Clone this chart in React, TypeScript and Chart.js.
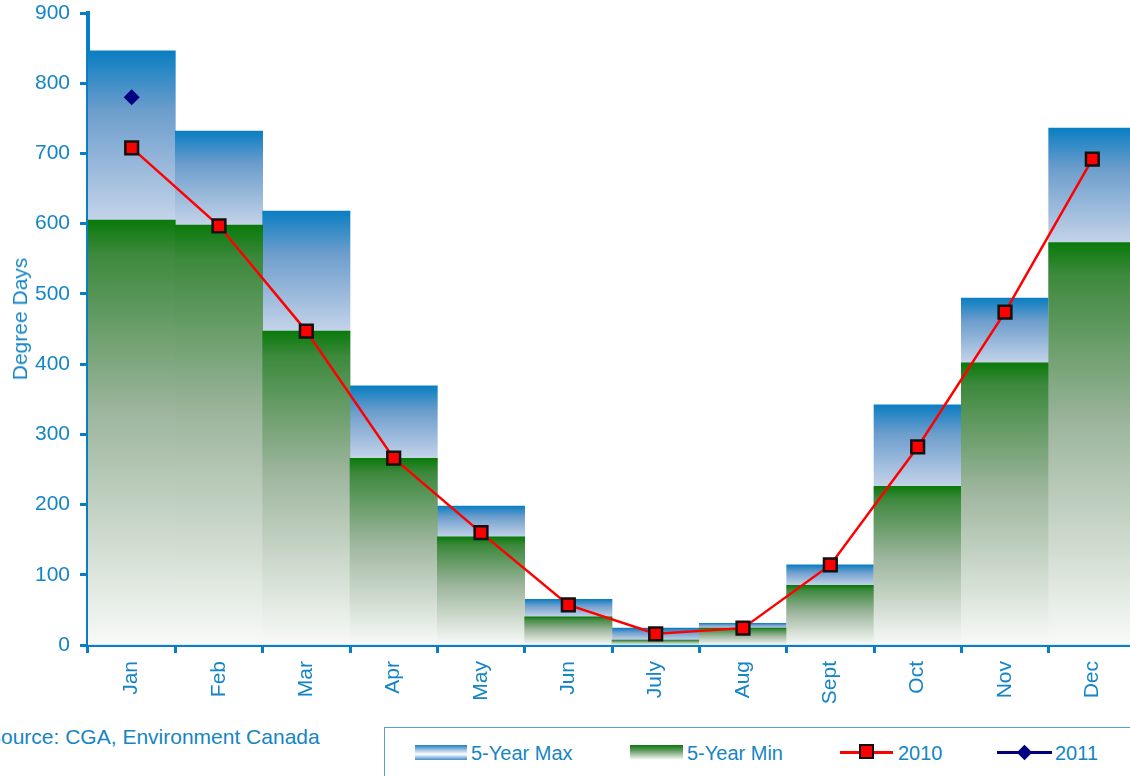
import React, { useEffect, useRef } from "react";
import { Chart, registerables } from "chart.js";

Chart.register(...registerables);

const months = ["Jan", "Feb", "Mar", "Apr", "May", "Jun", "July", "Aug", "Sept", "Oct", "Nov", "Dec"];
const fiveYearMax = [846, 732, 618, 369, 198, 65, 24, 31, 114, 342, 494, 736];
const fiveYearMin = [605, 598, 447, 266, 154, 40, 7, 24, 85, 226, 402, 573];
const y2010 = [708, 597, 447, 266, 160, 57, 16, 24, 114, 282, 474, 692];
const y2011 = [780, null, null, null, null, null, null, null, null, null, null, null];

const BLUE = "#1585c5";
const AXIS = "#0a7ec2";
const FONT = "'Liberation Sans', Arial, sans-serif";

export default function App() {
  const ref = useRef<HTMLCanvasElement>(null);

  useEffect(() => {
    if (!ref.current) return;
    const maxGrad = (ctx: any) => {
      const chart = ctx.chart;
      const y = chart.scales?.y;
      if (!y || !chart.chartArea || ctx.dataIndex === undefined) return "#6a9ccc";
      const i = ctx.dataIndex;
      const top = y.getPixelForValue(fiveYearMax[i]);
      let bot = y.getPixelForValue(fiveYearMin[i]);
      if (bot - top < 2) bot = top + 2;
      const g = chart.ctx.createLinearGradient(0, top, 0, bot);
      g.addColorStop(0, "#0a7ec2");
      g.addColorStop(0.35, "#6c9dcc");
      g.addColorStop(1, "#c4d3e9");
      return g;
    };
    const minGrad = (ctx: any) => {
      const chart = ctx.chart;
      const y = chart.scales?.y;
      if (!y || !chart.chartArea || ctx.dataIndex === undefined) return "#6a9a6a";
      const i = ctx.dataIndex;
      const top = y.getPixelForValue(fiveYearMin[i]);
      let bot = y.getPixelForValue(0);
      if (bot - top < 2) bot = top + 2;
      const g = chart.ctx.createLinearGradient(0, top, 0, bot);
      g.addColorStop(0, "#0a7a0a");
      g.addColorStop(0.08, "#3d893d");
      g.addColorStop(0.45, "#9db59d");
      g.addColorStop(1, "#f8faf8");
      return g;
    };

    const chart = new Chart(ref.current, {
      type: "bar",
      data: {
        labels: months,
        datasets: [
          {
            type: "bar",
            label: "5-Year Max",
            data: fiveYearMax,
            backgroundColor: maxGrad,
            borderWidth: 0,
            grouped: false,
            barPercentage: 1,
            categoryPercentage: 1,
            order: 2,
          } as any,
          {
            type: "bar",
            label: "5-Year Min",
            data: fiveYearMin,
            backgroundColor: minGrad,
            borderWidth: 0,
            grouped: false,
            barPercentage: 1,
            categoryPercentage: 1,
            order: 1,
          } as any,
          {
            type: "line",
            label: "2010",
            data: y2010,
            borderColor: "#ff0000",
            borderWidth: 2.5,
            backgroundColor: "#ff0000",
            pointStyle: "rect",
            pointRadius: 9,
            pointBorderColor: "#111111",
            pointBorderWidth: 2.5,
            pointBackgroundColor: "#ff0000",
            order: 0,
          } as any,
          {
            type: "line",
            label: "2011",
            data: y2011,
            borderColor: "#000080",
            borderWidth: 2.5,
            backgroundColor: "#000080",
            pointStyle: "rectRot",
            pointRadius: 8,
            pointBorderWidth: 0,
            pointBackgroundColor: "#000080",
            order: 0,
          } as any,
        ],
      },
      options: {
        animation: false,
        responsive: false,
        maintainAspectRatio: false,
        events: [],
        layout: { autoPadding: false, padding: { top: 13, left: 0, right: 0, bottom: 0 } },
        plugins: { legend: { display: false }, tooltip: { enabled: false } },
        scales: {
          x: {
            z: 1,
            border: { color: AXIS, width: 4 },
            grid: { display: true, drawOnChartArea: false, offset: true, tickLength: 8, tickWidth: 3, color: AXIS },
            ticks: {
              color: BLUE,
              font: { family: FONT, size: 21 },
              minRotation: 90,
              maxRotation: 90,
              padding: 8,
              autoSkip: false,
            },
            afterFit: (s: any) => {
              s.height = 720 - 645;
              s.paddingLeft = 0;
              s.paddingRight = 0;
            },
          },
          y: {
            z: 1,
            min: 0,
            max: 900,
            border: { color: AXIS, width: 4 },
            grid: { display: true, drawOnChartArea: false, tickLength: 8, tickWidth: 3, color: AXIS },
            ticks: {
              stepSize: 100,
              color: BLUE,
              font: { family: FONT, size: 21 },
              padding: 10,
            },
            afterFit: (s: any) => {
              s.width = 88;
              s.paddingTop = 0;
              s.paddingBottom = 0;
            },
          },
        },
      },
    } as any);
    return () => chart.destroy();
  }, []);

  const txt: React.CSSProperties = {
    position: "absolute",
    fontFamily: FONT,
    fontSize: 20,
    color: BLUE,
    lineHeight: "22px",
    whiteSpace: "nowrap",
  };

  return (
    <div style={{ position: "absolute", left: 0, top: 0, width: 1130, height: 776, overflow: "hidden", background: "#fff" }}>
      <canvas ref={ref} width={1136} height={720} style={{ position: "absolute", left: 0, top: 0, width: 1136, height: 720 }} />
      <div
        style={{
          ...txt,
          fontSize: 21,
          lineHeight: "24px",
          left: 20,
          top: 319,
          transform: "translate(-50%, -50%) rotate(-90deg)",
        }}
      >
        Degree Days
      </div>
      <div style={{ ...txt, fontSize: 21, lineHeight: "24px", left: -13, top: 725 }}>Source: CGA, Environment Canada</div>
      <div style={{ position: "absolute", left: 384, top: 727, width: 800, height: 80, border: "1px solid #5a9fd0", boxSizing: "border-box" }} />
      <div style={{ position: "absolute", left: 415, top: 745, width: 52, height: 15, background: "linear-gradient(to bottom, #1f7fc2, #b8cfe8 40%, #ffffff 62%, #3f8ccc)" }} />
      <div style={{ ...txt, left: 471, top: 742 }}>5-Year Max</div>
      <div style={{ position: "absolute", left: 630, top: 745, width: 53, height: 15, background: "linear-gradient(to bottom, #0a7a0a, #6a9e6a 40%, #ffffff)" }} />
      <div style={{ ...txt, left: 687, top: 742 }}>5-Year Min</div>
      <div style={{ position: "absolute", left: 840, top: 751, width: 53, height: 2.5, background: "#ff0000" }} />
      <div style={{ position: "absolute", left: 859, top: 744, width: 11, height: 11, background: "#ff0000", border: "2.5px solid #111" }} />
      <div style={{ ...txt, left: 898, top: 742 }}>2010</div>
      <div style={{ position: "absolute", left: 997, top: 751, width: 55, height: 2.5, background: "#000080" }} />
      <div style={{ position: "absolute", left: 1019, top: 747, width: 11, height: 11, background: "#000080", transform: "rotate(45deg)" }} />
      <div style={{ ...txt, left: 1055, top: 742 }}>2011</div>
    </div>
  );
}
